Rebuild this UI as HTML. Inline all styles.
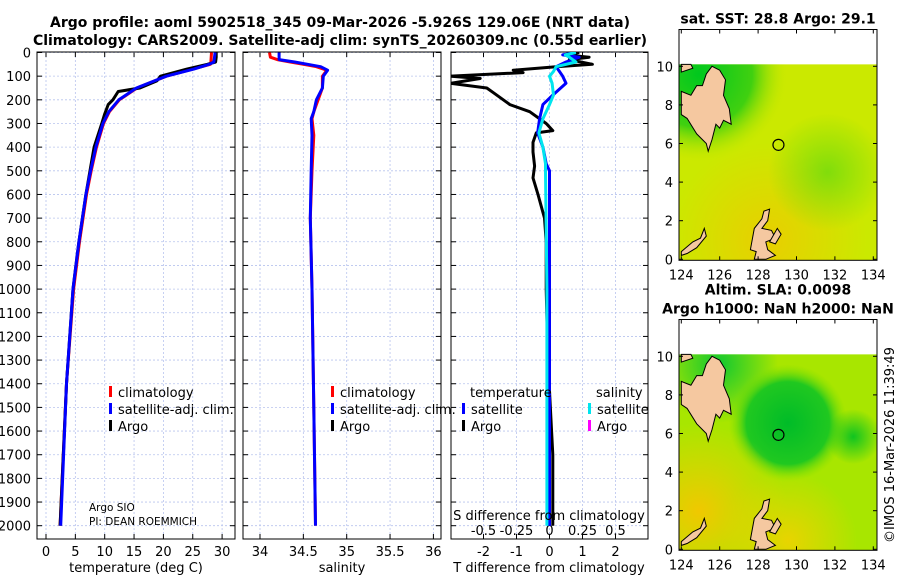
<!DOCTYPE html>
<html><head><meta charset="utf-8"><style>
body{margin:0;background:#fff}
svg{display:block;font-family:"DejaVu Sans","Liberation Sans",sans-serif}
</style></head><body>
<svg id="fig" width="900" height="580" viewBox="0 0 900 580" xmlns="http://www.w3.org/2000/svg">
<defs>
<clipPath id="cp1"><rect x="37" y="52" width="198" height="487"/></clipPath>
<clipPath id="cp2"><rect x="243" y="52" width="198" height="487"/></clipPath>
<clipPath id="cp3"><rect x="451" y="52" width="197" height="487"/></clipPath>
<radialGradient id="g1a" cx="0.1" cy="0.05" r="0.45"><stop offset="0" stop-color="#00c81e"/><stop offset="0.6" stop-color="#40d010"/><stop offset="1" stop-color="#c8e800" stop-opacity="0"/></radialGradient>
<radialGradient id="g1b" cx="0.45" cy="0.9" r="0.5"><stop offset="0" stop-color="#f0c800" stop-opacity="0.8"/><stop offset="1" stop-color="#f0c800" stop-opacity="0"/></radialGradient>
<radialGradient id="g1c" cx="0.75" cy="0.55" r="0.3"><stop offset="0" stop-color="#60d810" stop-opacity="0.7"/><stop offset="1" stop-color="#60d810" stop-opacity="0"/></radialGradient>
<radialGradient id="g2a" cx="0.55" cy="0.35" r="0.3"><stop offset="0" stop-color="#00bc28"/><stop offset="0.7" stop-color="#20c820"/><stop offset="1" stop-color="#80e000" stop-opacity="0"/></radialGradient>
<radialGradient id="g2b" cx="0.1" cy="0.8" r="0.45"><stop offset="0" stop-color="#f0c800"/><stop offset="1" stop-color="#f0d000" stop-opacity="0"/></radialGradient>
<radialGradient id="g2c" cx="0.88" cy="0.42" r="0.14"><stop offset="0" stop-color="#10c420"/><stop offset="1" stop-color="#10c420" stop-opacity="0"/></radialGradient>
<radialGradient id="g2d" cx="0.2" cy="0.05" r="0.3"><stop offset="0" stop-color="#10c830"/><stop offset="1" stop-color="#10c830" stop-opacity="0"/></radialGradient>
<radialGradient id="g2e" cx="0.55" cy="0.95" r="0.35"><stop offset="0" stop-color="#e8d400"/><stop offset="1" stop-color="#e8d400" stop-opacity="0"/></radialGradient>
</defs>
<g id="layer"></g>
</svg>
<script>
// ---- data ----
const depthT = [0,20,40,50,70,90,100,120,150,165,200,220,260,300,400,500,600,700,800,900,1000,1400,2000];
const argoT  = [29.0,29.0,28.9,27.5,24.0,21.0,19.5,18.9,16.0,12.3,11.4,10.6,10.0,9.5,8.2,7.5,6.8,6.2,5.6,5.1,4.6,3.5,2.4];
const depthC = [0,40,50,70,100,150,200,250,300,400,500,600,800,1000,1400,2000];
const climT  = [28.2,28.1,28.0,25.0,20.5,15.5,12.5,10.8,9.8,8.6,7.7,6.9,5.7,4.7,3.5,2.4];
const satT   = [28.8,28.6,27.8,25.2,20.5,15.4,12.4,10.7,9.7,8.5,7.6,6.8,5.6,4.6,3.5,2.5];
const depthS = [0,20,30,40,50,60,75,100,150,200,250,280,350,500,700,1000,1500,2000];
const climS  = [34.11,34.12,34.2,34.35,34.5,34.65,34.77,34.72,34.72,34.67,34.62,34.6,34.62,34.6,34.58,34.6,34.62,34.64];
const satS   = [34.22,34.22,34.22,34.4,34.55,34.7,34.78,34.73,34.72,34.65,34.62,34.59,34.6,34.59,34.58,34.6,34.62,34.64];
const depthDT = [0,10,20,30,50,60,75,85,100,110,130,150,170,220,250,300,330,340,380,420,480,530,600,700,800,1000,1300,1700,2000];
const argoDT  = [0.9,0.5,1.2,0.6,1.3,0.2,-1.1,-0.8,-3.0,-2.1,-3.0,-1.9,-1.7,-1.2,-0.6,-0.1,0.1,-0.4,-0.5,-0.5,-0.45,-0.5,-0.35,-0.15,-0.1,-0.1,-0.05,0.1,0.1];
const depthSD = [0,10,20,40,60,80,100,130,180,220,280,340,400,470,500,1000,2000];
const satDT   = [0.8,0.4,0.9,0.5,0.2,0.3,0.4,0.5,0.1,-0.2,-0.3,-0.36,-0.2,-0.1,0,0,0];
const satDS   = [0.2,0.12,0.15,0.2,0.05,0.03,0.0,0.02,0.03,0.0,-0.05,-0.08,-0.05,-0.03,-0.03,-0.02,-0.02];
const depthTicks = [0,100,200,300,400,500,600,700,800,900,1000,1100,1200,1300,1400,1500,1600,1700,1800,1900,2000];
const tTicks = [0,5,10,15,20,25,30];
const sTicks = [34,34.5,35,35.5,36];
const dTTicks = [-2,-1,0,1,2];
const dSTicks = [-0.5,-0.25,0,0.25,0.5];
const latTicks = [0,2,4,6,8,10];
const lonTicks = [124,126,128,130,132,134];
const argoPos = [129.06, 5.93];

// ---- axes ----
const yD = d => 52.5 + d*0.2366;
const xT = t => 46 + t*5.87;
const xS = s => 260 + (s-34)*86.7;
const xDT = v => 549.5 + v*33;
const xDS = v => 549.5 + v*132;
const NS="http://www.w3.org/2000/svg";
const layer=document.getElementById('layer');
function mk(tag,attrs,parent){const e=document.createElementNS(NS,tag);for(const k in attrs)e.setAttribute(k,attrs[k]);(parent||layer).appendChild(e);return e;}
function txt(x,y,s,size,anchor,extra){const e=mk('text',Object.assign({x:x,y:y,'font-size':size,'text-anchor':anchor||'middle',fill:'#000'},extra||{}));e.textContent=s;return e;}
function line(xs,ys,color,w,clip,name){
  const pts=xs.map((x,i)=>x.toFixed(1)+','+ys[i].toFixed(1)).join(' ');
  const p=mk('polyline',{points:pts,fill:'none',stroke:color,'stroke-width':w,'stroke-linejoin':'round','clip-path':'url(#'+clip+')'});
  
  
  return p;
}
function panel(x0,x1,name,xticks,xf,clip){
  const g=mk('g',{});
  
  
  xticks.forEach(v=>{const x=xf(v);mk('line',{x1:x,x2:x,y1:52,y2:539,stroke:'#b8c4ee','stroke-width':0.8,'stroke-dasharray':'2,2'},g);
    mk('line',{x1:x,x2:x,y1:539,y2:534,stroke:'#000'},g);mk('line',{x1:x,x2:x,y1:52,y2:57,stroke:'#000'},g);});
  depthTicks.forEach(d=>{const y=yD(d);mk('line',{x1:x0,x2:x1,y1:y,y2:y,stroke:'#b8c4ee','stroke-width':0.8,'stroke-dasharray':'2,2'},g);
    mk('line',{x1:x0,x2:x0+5,y1:y,y2:y,stroke:'#000'},g);mk('line',{x1:x1-5,x2:x1,y1:y,y2:y,stroke:'#000'},g);});
  mk('rect',{x:x0,y:52,width:x1-x0,height:487,fill:'none',stroke:'#000','stroke-width':1},g);
}
panel(37,235,'temperature-panel',tTicks,xT,'cp1');
panel(243,441,'salinity-panel',sTicks,xS,'cp2');
panel(451,648,'difference-panel',dTTicks,xDT,'cp3');

depthTicks.forEach(d=>{const t=txt(31,yD(d)+5,String(d),13,'end');});
tTicks.forEach(v=>{const t=txt(xT(v),556,String(v),13);});
sTicks.forEach(v=>{const t=txt(xS(v),556,String(v),13);});
dTTicks.forEach(v=>{const t=txt(xDT(v),556,String(v),13);});
dSTicks.forEach(v=>{const t=txt(xDS(v),535,String(v),13);});

// series
line(climT.map(xT),depthC.map(yD),'#ff0000',3,'cp1','climatology-temperature-line');
line(argoT.map(xT),depthT.map(yD),'#000000',3,'cp1','argo-temperature-line');
line(satT.map(xT),depthC.map(yD),'#0000ff',3,'cp1','satellite-temperature-line');
line(climS.map(xS),depthS.map(yD),'#ff0000',3,'cp2','climatology-salinity-line');
line(satS.map(xS),depthS.map(yD),'#0000ff',3,'cp2','satellite-salinity-line');
line(argoDT.map(xDT),depthDT.map(yD),'#000000',3,'cp3','argo-t-difference-line');
line(satDT.map(xDT),depthSD.map(yD),'#0000ff',3,'cp3','satellite-t-difference-line');
line(satDS.map(xDS),depthSD.map(yD),'#00e5ee',3,'cp3','satellite-s-difference-line');

// legends
function leg(x,y,color,label,name){const g=mk('g',{});
  mk('rect',{x:x,y:y-11,width:3,height:11,fill:color},g);const t=txt(x+9,y,label,13,'start');g.appendChild(t);}
leg(109,397,'#ff0000','climatology','legend-climatology');
leg(109,414,'#0000ff','satellite-adj. clim.','legend-satellite-adj');
leg(109,431,'#000000','Argo','legend-argo');
leg(331,397,'#ff0000','climatology','legend-climatology-salinity');
leg(331,414,'#0000ff','satellite-adj. clim.','legend-satellite-adj-salinity');
leg(331,431,'#000000','Argo','legend-argo-salinity');
txt(470,397,'temperature',13,'start');
txt(596,397,'salinity',13,'start');
leg(462,414,'#0000ff','satellite','legend-t-satellite');
leg(462,431,'#000000','Argo','legend-t-argo');
leg(588,414,'#00e5ee','satellite','legend-s-satellite');
leg(588,431,'#ff00ff','Argo','legend-s-argo');
txt(89,511,'Argo SIO',10.5,'start');
txt(89,525,'PI: DEAN ROEMMICH',10.5,'start');
txt(549,520,'S difference from climatology',13);
txt(136,572,'temperature (deg C)',13);
txt(342,572,'salinity',13);
txt(549,572,'T difference from climatology',13);
txt(340,27,'Argo profile: aoml 5902518_345 09-Mar-2026 -5.926S 129.06E (NRT data)',14,'middle',{'font-weight':'bold'});
txt(340,45,'Climatology: CARS2009. Satellite-adj clim: synTS_20260309.nc (0.55d earlier)',14,'middle',{'font-weight':'bold'});

// ---- maps ----
function mapPanel(top,y0,name,grads,base,titleLines){
  const xL=lo=>681.3+(lo-124)*19.2, yL=la=>y0-la*19.3;
  const g=mk('g',{});
  const mx=679,mw=198,my=yL(10.1),mh=y0+1-yL(10.1);
  mk('rect',{x:mx,y:my,width:mw,height:mh,fill:base},g);
  grads.forEach(id=>mk('rect',{x:mx,y:my,width:mw,height:mh,fill:'url(#'+id+')'},g));
  const lands=[
   [[124,10.1],[124.5,10.1],[124.6,9.9],[124,9.7]],
   [[124,8.7],[124.5,8.5],[124.8,9.0],[125.1,9.0],[125.3,9.6],[125.6,10.0],[126.0,9.8],[126.3,9.3],[126.2,8.5],[126.5,7.8],[126.6,7.0],[126.2,7.2],[126.0,6.8],[125.8,7.0],[125.6,6.2],[125.4,5.6],[125.3,6.0],[124.8,6.5],[124.3,7.3],[124,7.5]],
   [[124,0.4],[124.6,0.9],[125.0,1.1],[125.2,1.6],[125.3,1.2],[124.8,0.6],[124.3,0.3],[124,0.2]],
   [[127.6,0.5],[127.8,1.6],[128.2,2.1],[128.3,2.5],[128.6,2.6],[128.5,2.0],[128.2,1.6],[128.7,1.5],[128.9,1.1],[128.4,0.9],[128.5,0.5],[128.9,0.2],[128.4,0],[127.8,0],[127.9,0.4]],
   [[128.6,0.9],[129.0,1.6],[129.2,1.3],[128.9,0.8]]
  ];
  lands.forEach(p=>mk('polygon',{points:p.map(q=>xL(q[0]).toFixed(1)+','+yL(q[1]).toFixed(1)).join(' '),fill:'#f5c8a0',stroke:'#000','stroke-width':1},g));
  mk('rect',{x:mx,y:top,width:mw,height:y0+1-top,fill:'none',stroke:'#000'},g);
  latTicks.forEach(v=>{const y=yL(v);mk('line',{x1:679,x2:683,y1:y,y2:y,stroke:'#000'},g);mk('line',{x1:873,x2:877,y1:y,y2:y,stroke:'#000'},g);txt(673,y+5,String(v),13,'end');});
  lonTicks.forEach(v=>{const x=xL(v);mk('line',{x1:x,x2:x,y1:y0+1,y2:y0-3,stroke:'#000'},g);mk('line',{x1:x,x2:x,y1:top,y2:top+4,stroke:'#000'},g);txt(x,y0+20,String(v),13);});
  const c=mk('circle',{cx:xL(argoPos[0]),cy:yL(argoPos[1]),r:5.5,fill:'none',stroke:'#000','stroke-width':1.2},g);
  
  titleLines.forEach((s,i)=>txt(778,top-6-(titleLines.length-1-i)*19,s,14,'middle',{'font-weight':'bold'}));
}
mapPanel(29.5,259.3,'sst-map',['g1a','g1b','g1c'],'#cbe900',['sat. SST: 28.8 Argo: 29.1']);
mapPanel(319.5,549.3,'sla-map',['g2d','g2a','g2b','g2c','g2e'],'#a8e600',['Altim. SLA: 0.0098','Argo h1000: NaN h2000: NaN']);
txt(0,0,'©IMOS 16-Mar-2026 11:39:49',13,'middle',{transform:'translate(894,445) rotate(-90)'});
</script>
</body></html>
